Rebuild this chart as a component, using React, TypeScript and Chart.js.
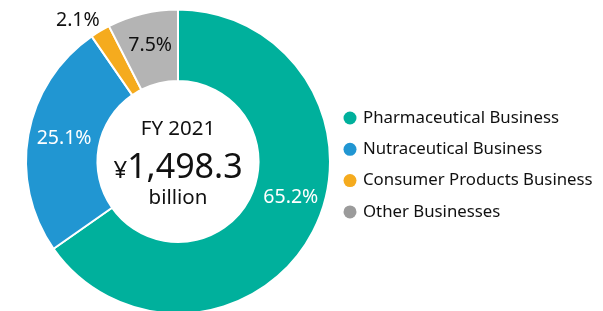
import React, { useEffect, useRef } from "react";
import { Chart, registerables } from "chart.js";
Chart.register(...registerables);

const categories = ["Pharmaceutical Business", "Nutraceutical Business", "Consumer Products Business", "Other Businesses"];
const shares = [65.2, 25.1, 2.1, 7.5];
const shareLabels = ["65.2%", "25.1%", "2.1%", "7.5%"];
const sliceColors = ["#00B09C", "#2196D2", "#F5AB1E", "#B4B4B4"];
const legendColors = ["#00B09C", "#2196D2", "#F5AB1E", "#9B9B9B"];
const labelColors = ["#ffffff", "#ffffff", "#111111", "#111111"];
const centerTitle = "FY 2021";
const centerCurrency = "¥";
const centerValue = "1,498.3";
const centerUnit = "billion";

const FONT = "'Noto Sans', 'Open Sans', sans-serif";

export default function App() {
  const ref = useRef<HTMLCanvasElement>(null);
  useEffect(() => {
    const labelPlugin = {
      id: "labels",
      afterDatasetsDraw(chart: any) {
        const ctx = chart.ctx;
        const meta = chart.getDatasetMeta(0);
        const angleShift = [-10, 1.5, -4.5, 0];
        const radiusShift = [2, 0, 57, 3];
        meta.data.forEach((arc: any, i: number) => {
          const p = arc.getProps(["x", "y", "startAngle", "endAngle", "innerRadius", "outerRadius"], true);
          const mid = (p.startAngle + p.endAngle) / 2 + (angleShift[i] * Math.PI) / 180;
          const r = (p.innerRadius + p.outerRadius) / 2 + radiusShift[i];
          ctx.save();
          ctx.font = `19.5px ${FONT}`;
          ctx.fillStyle = labelColors[i];
          ctx.textAlign = "center";
          ctx.textBaseline = "middle";
          ctx.fillText(shareLabels[i], p.x + Math.cos(mid) * r, p.y + Math.sin(mid) * r);
          ctx.restore();
        });
        const c = meta.data[0];
        const cx = c.x, cy = c.y;
        ctx.save();
        ctx.fillStyle = "#111111";
        ctx.textAlign = "center";
        ctx.textBaseline = "middle";
        ctx.font = `20.5px ${FONT}`;
        ctx.fillText(centerTitle, cx, cy - 32);
        ctx.textBaseline = "alphabetic";
        ctx.font = `24px ${FONT}`;
        const wc = ctx.measureText(centerCurrency).width;
        ctx.font = `34px ${FONT}`;
        const wv = ctx.measureText(centerValue).width;
        const start = cx - (wc + wv) / 2;
        ctx.textAlign = "left";
        ctx.font = `24px ${FONT}`;
        ctx.fillText(centerCurrency, start, cy + 16);
        ctx.font = `34px ${FONT}`;
        ctx.fillText(centerValue, start + wc, cy + 16);
        ctx.textAlign = "center";
        ctx.textBaseline = "middle";
        ctx.font = `20.5px ${FONT}`;
        ctx.fillText(centerUnit, cx, cy + 37);
        ctx.textAlign = "left";
        ctx.font = `16.8px ${FONT}`;
        categories.forEach((name, i) => {
          const y = 118 + i * 31.3;
          ctx.beginPath();
          ctx.fillStyle = legendColors[i];
          ctx.arc(350, y, 6.5, 0, Math.PI * 2);
          ctx.fill();
          ctx.fillStyle = "#111111";
          ctx.fillText(name, 363, y);
        });
        ctx.restore();
      },
    };
    const chart = new Chart(ref.current!, {
      type: "doughnut",
      data: {
        labels: categories,
        datasets: [
          {
            data: shares,
            backgroundColor: sliceColors,
            borderColor: "#ffffff",
            borderWidth: 2,
          },
        ],
      },
      options: {
        animation: false,
        responsive: false,
        cutout: "53%",
        layout: { padding: { left: 25, right: 272, top: 8.5, bottom: 8.5 } },
        plugins: { legend: { display: false }, tooltip: { enabled: false } },
      },
      plugins: [labelPlugin],
    });
    return () => chart.destroy();
  }, []);
  return (
    <div style={{ position: "fixed", left: 0, top: 0, width: 603, height: 311, overflow: "hidden", background: "#fff" }}>
      <canvas ref={ref} width={603} height={323} style={{ display: "block", width: 603, height: 323 }} />
    </div>
  );
}
